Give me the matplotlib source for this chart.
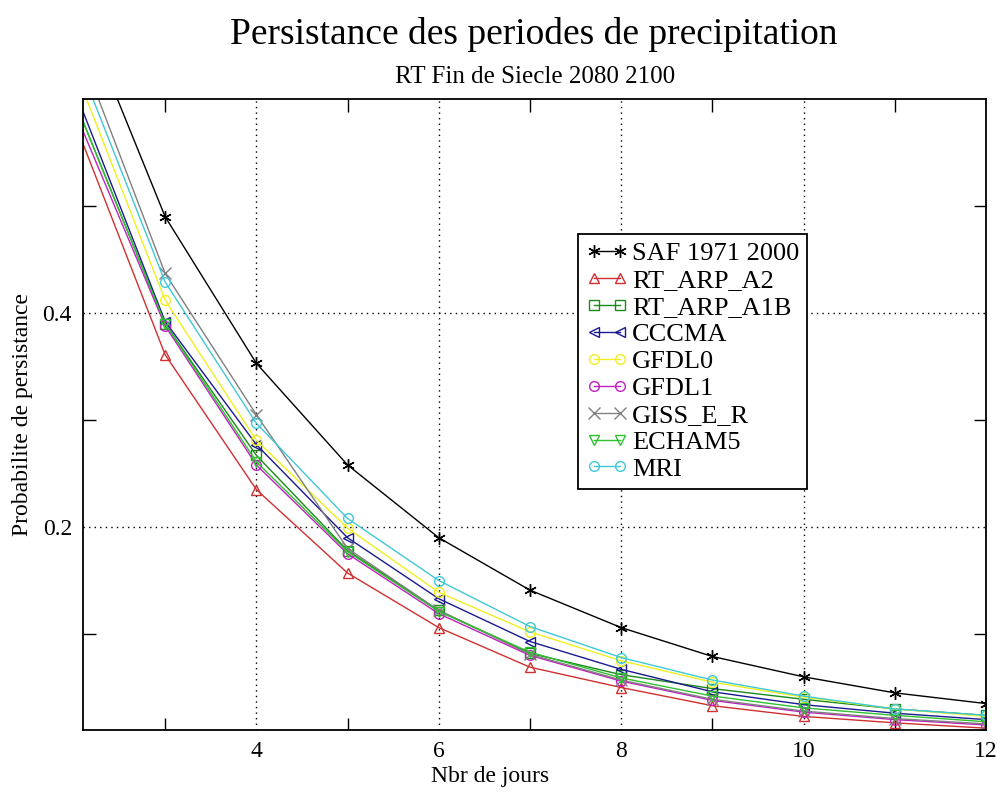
import numpy as np
import matplotlib
matplotlib.use("Agg")
import matplotlib.pyplot as plt
from matplotlib.ticker import MultipleLocator

plt.rcParams['font.family'] = ['Liberation Serif', 'DejaVu Serif']

jours = [2, 3, 4, 5, 6, 7, 8, 9, 10, 11, 12]

saf = [0.700, 0.490, 0.353, 0.258, 0.190, 0.141, 0.106, 0.079, 0.060, 0.045, 0.035]
arp_a2 = [0.580, 0.361, 0.235, 0.157, 0.106, 0.069, 0.050, 0.033, 0.023, 0.017, 0.012]
arp_a1b = [0.600, 0.390, 0.267, 0.178, 0.122, 0.082, 0.062, 0.049, 0.039, 0.030, 0.024]
cccma = [0.610, 0.392, 0.277, 0.190, 0.133, 0.093, 0.067, 0.046, 0.034, 0.026, 0.020]
gfdl0 = [0.630, 0.412, 0.281, 0.199, 0.139, 0.102, 0.075, 0.055, 0.041, 0.030, 0.023]
gfdl1 = [0.590, 0.388, 0.258, 0.175, 0.119, 0.080, 0.056, 0.038, 0.027, 0.020, 0.015]
giss = [0.660, 0.437, 0.305, 0.180, 0.122, 0.081, 0.057, 0.039, 0.028, 0.021, 0.016]
echam5 = [0.600, 0.390, 0.261, 0.177, 0.121, 0.083, 0.059, 0.042, 0.031, 0.024, 0.018]
mri = [0.645, 0.429, 0.297, 0.208, 0.150, 0.107, 0.078, 0.057, 0.042, 0.030, 0.024]

series = [
    ("SAF 1971 2000", saf, "black", (6, 2, 0)),
    ("RT_ARP_A2", arp_a2, "#d03030", "^"),
    ("RT_ARP_A1B", arp_a1b, "#1a8a1a", "s"),
    ("CCCMA", cccma, "#1a1a90", "<"),
    ("GFDL0", gfdl0, "#f0f020", "o"),
    ("GFDL1", gfdl1, "#c020c0", "o"),
    ("GISS_E_R", giss, "#808080", "x"),
    ("ECHAM5", echam5, "#30c030", "v"),
    ("MRI", mri, "#40c8d8", "o"),
]

fig = plt.figure(figsize=(9.97, 7.94), dpi=100)
ax = fig.add_axes([0.0833, 0.0806, 0.9057, 0.7947])

for name, vals, col, mk in series:
    filled = mk in [(6, 2, 0), "x"]
    ax.plot(jours, vals, color=col, lw=1.0, marker=mk,
            markersize=9 if filled else 7,
            markerfacecolor=col if filled else "none", markeredgecolor=col,
            markeredgewidth=1.0, label=name)

ax.set_xlim(2.1, 12)
ax.set_ylim(0.0103, 0.6)
ax.xaxis.set_major_locator(MultipleLocator(2))
ax.xaxis.set_minor_locator(MultipleLocator(1))
ax.set_yticks([0.2, 0.4])
ax.set_yticks([0.1, 0.3, 0.5], minor=True)
ax.set_yticklabels(["0.2", "0.4"])
ax.tick_params(which="both", direction="in", top=True, right=True, labelsize=17)
ax.tick_params(which="major", length=0, pad=8)
ax.tick_params(which="minor", length=9, width=1)
ax.grid(True, which="major", color="black", linestyle=(0, (1, 3)), lw=1)
for s in ax.spines.values():
    s.set_linewidth(1.3)

ax.set_xlabel("Nbr de jours", fontsize=17)
ax.xaxis.set_label_coords(0.451, -0.057)
ax.set_ylabel("Probabilite de persistance", fontsize=17)
ax.yaxis.set_label_coords(-0.055, 0.5)

fig.text(0.535, 0.957, "Persistance des periodes de precipitation",
         ha="center", va="center", fontsize=27)
fig.text(0.537, 0.903, "RT Fin de Siecle 2080 2100", ha="center", va="center",
         fontsize=18)

leg = ax.legend(loc="upper left", bbox_to_anchor=(0.548, 0.786), fontsize=19,
                numpoints=2, frameon=True, fancybox=False, framealpha=1,
                edgecolor="black", handlelength=1.6, handletextpad=0.15,
                borderpad=0.3, labelspacing=0.13, borderaxespad=0)
leg.get_frame().set_linewidth(1.3)

fig.savefig("out.png", dpi=100)
